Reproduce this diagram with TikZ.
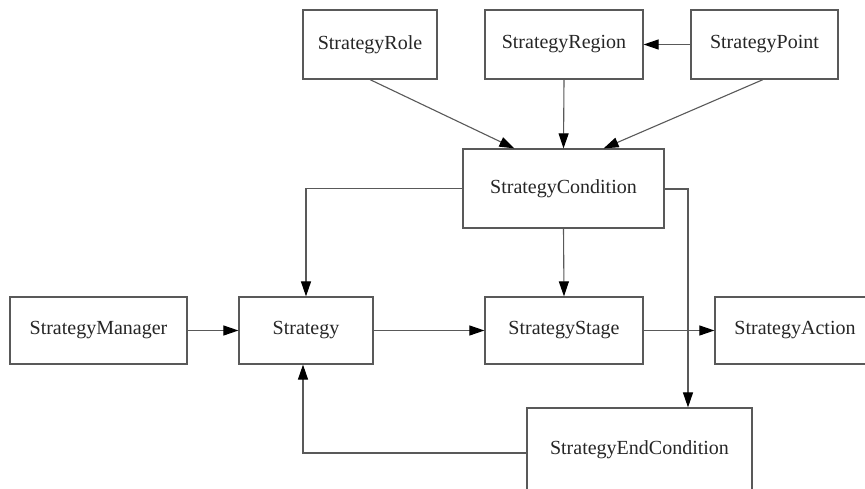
\documentclass[tikz,border=0pt]{standalone}
\usepackage{fontspec}
\setmainfont{Liberation Serif}
\usetikzlibrary{arrows.meta,calc}
\begin{document}
\begin{tikzpicture}[x=1pt,y=-1pt,
  box/.style={draw=black!65,line width=1.2pt,fill=white,inner sep=0pt,
    font=\fontsize{20}{24}\selectfont,text=black!85},
  conn/.style={draw=black!65,line width=1.1pt,
    -{Triangle[length=15pt,width=10pt,fill=black,color=black]}}]
\useasboundingbox (0,0) rectangle (865,488);
\clip (0,0) rectangle (865,488);
\fill[white] (0,0) rectangle (865,488);
\node[box,minimum width=134pt,minimum height=69pt] (role) at (370,44.5) {StrategyRole};
\node[box,minimum width=158pt,minimum height=69pt] (region) at (564,44.5) {StrategyRegion};
\node[box,minimum width=147pt,minimum height=69pt] (point) at (764.5,44.5) {StrategyPoint};
\node[box,minimum width=201pt,minimum height=79pt] (cond) at (563.5,188.5) {StrategyCondition};
\node[box,minimum width=177pt,minimum height=67pt] (manager) at (98.5,330.5) {StrategyManager};
\node[box,minimum width=134pt,minimum height=67pt] (strategy) at (306,330.5) {Strategy};
\node[box,minimum width=158pt,minimum height=67pt] (stage) at (564,330.5) {StrategyStage};
\node[box,minimum width=160pt,minimum height=67pt] (action) at (795,330.5) {StrategyAction};
\node[box,minimum width=225pt,minimum height=84pt] (endc) at (639.5,450) {StrategyEndCondition};
% top arrows
\draw[conn] (role.south) -- ($(cond.north west)+(52,0)$);
\draw[conn] (region.south) -- (cond.north);
\draw[conn] ($(point.south)+(-1.5,0)$) -- ($(cond.north east)+(-61,0)$);
\draw[conn] (point.west) -- (region.east);
% from condition
\draw[conn] (cond.west) -| (strategy.north);
\draw[conn] (cond.south) -- (stage.north);
\draw[conn] ($(cond.east)+(0,0.5)$) -| (endc.north -| 688,0);
% middle row
\draw[conn] (manager.east) -- (strategy.west);
\draw[conn] (strategy.east) -- (stage.west);
\draw[conn] (stage.east) -- (action.west);
% end condition back to strategy
\draw[conn] ($(endc.west)+(0,3)$) -| ($(strategy.south)+(-3,0)$);
\end{tikzpicture}
\end{document}
